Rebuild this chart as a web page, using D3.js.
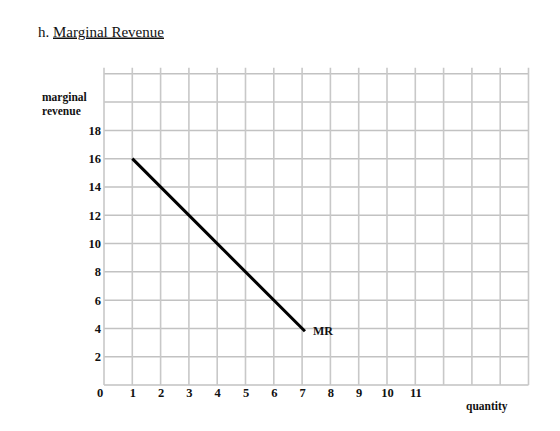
<!DOCTYPE html>
<html>
<head>
<meta charset="utf-8">
<script src="https://cdn.jsdelivr.net/npm/d3@7"></script>
<style>
  body { margin: 0; background: #fff; }
  svg { display: block; font-family: "Liberation Serif", "Times New Roman", serif; }
  .tick line, .domain { display: none; }
  .tick text { font-family: "Liberation Serif", "Times New Roman", serif; font-weight: bold; font-size: 12.5px; fill: #111; }
</style>
</head>
<body>
<svg width="560" height="431"></svg>
<script>
// grid spans 0..15 on quantity, 0..22 on revenue
var xGrid = d3.range(0, 16);
var yGrid = d3.range(0, 23, 2);
var xLabels = [1, 2, 3, 4, 5, 6, 7, 8, 9, 10, 11];
var yLabels = [2, 4, 6, 8, 10, 12, 14, 16, 18];
// MR curve
var quantity = [1, 7.1];
var mr = [16, 3.8];

var svg = d3.select("svg");

var x = d3.scaleLinear().domain([0, 15]).range([104, 528.5]);
var y = d3.scaleLinear().domain([0, 22]).range([385, 73.8]);

// title
var title = svg.append("text")
    .attr("x", 38)
    .attr("y", 36.5)
    .attr("font-size", "15px")
    .attr("fill", "#111");
title.append("tspan").text("h. ");
title.append("tspan").attr("text-decoration", "underline").text("Marginal Revenue");

// grid
svg.append("g").selectAll("line")
    .data(yGrid)
    .join("line")
    .attr("x1", x(0)).attr("x2", x(15))
    .attr("y1", function(d) { return y(d); })
    .attr("y2", function(d) { return y(d); })
    .attr("stroke", "#c2c2c2")
    .attr("stroke-width", 1.5);

svg.append("g").selectAll("line")
    .data(xGrid)
    .join("line")
    .attr("x1", function(d) { return x(d); })
    .attr("x2", function(d) { return x(d); })
    .attr("y1", y(0)).attr("y2", y(22) - 6)
    .attr("stroke", "#c8c8c8")
    .attr("stroke-width", 1.6);

// axes (labels only)
svg.append("g")
    .attr("transform", "translate(0," + y(0) + ")")
    .call(d3.axisBottom(x).tickValues(xLabels).tickSize(0).tickPadding(3).tickFormat(d3.format("d")))
    .call(function(g) { g.selectAll("text").attr("dy", "0.71em"); });

svg.append("g")
    .attr("transform", "translate(" + (x(0) - 1) + ",0)")
    .call(d3.axisLeft(y).tickValues(yLabels).tickSize(0).tickPadding(2).tickFormat(d3.format("d")));

svg.append("text")
    .attr("x", x(0) - 4)
    .attr("y", y(0) + 3)
    .attr("dy", "0.71em")
    .attr("text-anchor", "middle")
    .attr("font-weight", "bold")
    .attr("font-size", "12.5px")
    .attr("fill", "#111")
    .text("0");

// axis titles
var yt = svg.append("text")
    .attr("font-weight", "bold")
    .attr("font-size", "11.5px")
    .attr("fill", "#111");
yt.append("tspan").attr("x", 42).attr("y", 101).text("marginal");
yt.append("tspan").attr("x", 42).attr("y", 114.5).text("revenue");

svg.append("text")
    .attr("x", 466)
    .attr("y", 410)
    .attr("font-weight", "bold")
    .attr("font-size", "11.5px")
    .attr("fill", "#111")
    .text("quantity");

// MR line
var pts = quantity.map(function(q, i) { return { q: q, v: mr[i] }; });
var line = d3.line()
    .x(function(d) { return x(d.q); })
    .y(function(d) { return y(d.v); });

svg.append("path")
    .datum(pts)
    .attr("fill", "none")
    .attr("stroke", "#000")
    .attr("stroke-width", 3)
    .attr("d", line);

svg.append("text")
    .attr("x", x(7.1) + 8)
    .attr("y", y(3.8) + 4)
    .attr("font-weight", "bold")
    .attr("font-size", "12px")
    .attr("fill", "#111")
    .text("MR");
</script>
</body>
</html>
